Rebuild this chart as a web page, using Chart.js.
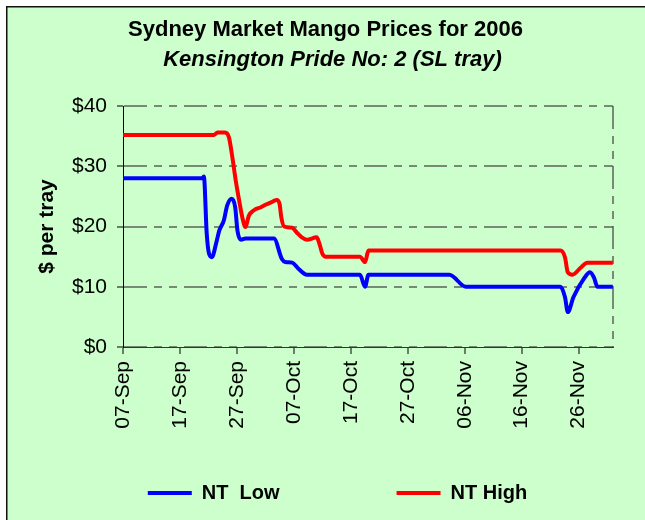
<!DOCTYPE html>
<html><head><meta charset="utf-8">
<style>html,body{margin:0;padding:0;background:#fff;overflow:hidden;} canvas{display:block;}</style>
<script src="https://cdn.jsdelivr.net/npm/chart.js@4.4.1/dist/chart.umd.min.js"></script>
</head><body>
<canvas id="c" width="645" height="520"></canvas>
<script>
const chartTitle = 'Sydney Market Mango Prices for 2006';
const chartSubtitle = 'Kensington Pride No: 2 (SL tray)';
const yAxisTitle = '$ per tray';
const seriesNames = ['NT  Low', 'NT High'];
const seriesColors = ['#0000FF', '#FF0000'];

// x values: days since 07-Sep-2006
const lowDays   = [0, 13.9, 14.2, 14.7, 15.1, 15.6, 16.4, 16.9, 17.7, 18.3, 19.1, 19.7, 20.1, 20.7, 21.5, 26.5, 27.9, 28.5, 29.7, 30.8, 32.3, 41.6, 42.5, 43.1, 57.3, 60.2, 76.8, 77.6, 78.1, 79.1, 80.9, 82.0, 82.7, 83.3, 86];
const lowPrices = [28.0, 28.0, 28.3, 18.8, 15.5, 14.9, 17.4, 19.3, 21.0, 23.5, 24.6, 23.2, 19.3, 17.8, 18.0, 18.0, 14.6, 14.1, 14.0, 13.0, 12.0, 12.0, 10.0, 12.0, 12.0, 10.0, 10.0, 8.3, 5.8, 8.3, 11.3, 12.4, 11.5, 10.0, 10.0];
const highDays   = [0, 16.0, 16.6, 17.9, 18.6, 19.2, 19.8, 20.4, 21.0, 21.5, 22.1, 23.0, 24.2, 25.0, 26.2, 27.0, 27.5, 27.8, 28.3, 29.7, 30.5, 31.4, 32.3, 34.0, 34.5, 35.0, 35.6, 41.6, 42.5, 43.1, 76.8, 77.6, 78.1, 78.9, 80.4, 81.5, 86];
const highPrices = [35.2, 35.2, 35.6, 35.6, 34.8, 31.5, 27.6, 24.3, 21.3, 19.9, 21.8, 22.7, 23.2, 23.6, 24.1, 24.4, 23.7, 21.5, 20.0, 19.8, 19.0, 18.2, 17.8, 18.2, 17.1, 15.5, 15.0, 15.0, 14.1, 16.0, 16.0, 14.9, 12.4, 12.0, 13.2, 14.0, 14.0];

const xTickDays = [0, 10, 20, 30, 40, 50, 60, 70, 80];
const xTickLabels = ['07-Sep', '17-Sep', '27-Sep', '07-Oct', '17-Oct', '27-Oct', '06-Nov', '16-Nov', '26-Nov'];
const xEndDay = 86;
const yTickValues = [0, 10, 20, 30, 40];
const yTickLabels = ['$0', '$10', '$20', '$30', '$40'];

const gridColor = 'rgba(60,60,60,0.6)';
const dashPattern = [23, 7, 8, 7, 8, 7];
const FONT = "'Liberation Sans', Arial, Helvetica, sans-serif";
Chart.defaults.font.family = FONT;
Chart.defaults.color = '#000';

const toPoints = (xs, ys) => xs.map((x, i) => ({x: x, y: ys[i]}));

const bgPlugin = {
  id: 'bgFrame',
  beforeDraw(chart) {
    const {ctx, width, height} = chart;
    ctx.save();
    ctx.fillStyle = '#ffffff';
    ctx.fillRect(0, 0, width, height);
    ctx.fillStyle = '#CCFFCC';
    ctx.fillRect(7, 7, width - 7, height - 7);
    ctx.fillStyle = '#111111';
    ctx.fillRect(6, 6, 1.5, height - 6);
    ctx.fillRect(6, 6, width - 6, 1.5);
    ctx.restore();
  }
};

const shiftPlugin = {
  id: 'shiftBlocks',
  afterLayout(chart) {
    const move = (b, dx) => { b.left += dx; b.right += dx; };
    chart.boxes.forEach(b => {
      if (b === chart.titleBlock) move(b, 18);
      else if (b === chart.legend) move(b, 30);
      else if (b.options && b.options.text === chartSubtitle) move(b, 25);
    });
  }
};

const spacer = () => ({text: '', fillStyle: 'rgba(0,0,0,0)', strokeStyle: 'rgba(0,0,0,0)', lineWidth: 0, hidden: false});

new Chart(document.getElementById('c'), {
  type: 'line',
  data: {
    datasets: [
      {label: seriesNames[0], data: toPoints(lowDays, lowPrices), borderColor: seriesColors[0], backgroundColor: seriesColors[0],
       borderWidth: 4, pointRadius: 0, cubicInterpolationMode: 'monotone', borderJoinStyle: 'round', borderCapStyle: 'round', fill: false},
      {label: seriesNames[1], data: toPoints(highDays, highPrices), borderColor: seriesColors[1], backgroundColor: seriesColors[1],
       borderWidth: 4, pointRadius: 0, cubicInterpolationMode: 'monotone', borderJoinStyle: 'round', borderCapStyle: 'round', fill: false}
    ]
  },
  options: {
    responsive: false,
    animation: false,
    devicePixelRatio: 1,
    layout: {padding: {left: 0, right: 30, top: 0, bottom: 7}},
    plugins: {
      title: {display: true, text: chartTitle, font: {size: 22, weight: 'bold'}, padding: {top: 16.8, bottom: 0}},
      subtitle: {display: true, text: chartSubtitle, color: '#000', font: {size: 22, weight: 'bold', style: 'italic'}, padding: {top: 3.6, bottom: 32.8}},
      legend: {
        display: true, position: 'bottom',
        labels: {
          boxWidth: 44, boxHeight: 4, padding: 3,
          font: {size: 20, weight: 'bold'},
          generateLabels: (chart) => {
            const ds = chart.data.datasets;
            return [
              {text: ds[0].label, fillStyle: ds[0].borderColor, strokeStyle: ds[0].borderColor, lineWidth: 0, hidden: false, datasetIndex: 0},
              spacer(), spacer(),
              {text: ds[1].label, fillStyle: ds[1].borderColor, strokeStyle: ds[1].borderColor, lineWidth: 0, hidden: false, datasetIndex: 1}
            ];
          }
        }
      },
      tooltip: {enabled: false}
    },
    scales: {
      x: {
        type: 'linear', min: 0, max: xEndDay,
        afterBuildTicks: (axis) => { axis.ticks = xTickDays.concat([xEndDay]).map(v => ({value: v})); },
        afterFit: (axis) => { axis.height = 133; },
        ticks: {
          autoSkip: false, maxRotation: 90, minRotation: 90, padding: 7,
          font: {size: 21},
          callback: (v) => { const i = xTickDays.indexOf(v); return i >= 0 ? xTickLabels[i] : ''; }
        },
        grid: {
          display: true, drawOnChartArea: true, drawTicks: true, tickLength: 7, tickWidth: 1,
          lineWidth: 2,
          color: (ctx) => (ctx.tick && ctx.tick.value === xEndDay) ? gridColor : 'rgba(0,0,0,0)',
          tickColor: (ctx) => (ctx.tick && ctx.tick.value === xEndDay) ? 'rgba(0,0,0,0)' : '#000',
          tickBorderDash: []
        },
        border: {display: true, color: '#333333', width: 1, dash: dashPattern}
      },
      y: {
        type: 'linear', min: 0, max: 40,
        afterBuildTicks: (axis) => { axis.ticks = yTickValues.map(v => ({value: v})); },
        afterFit: (axis) => { axis.width = 123; },
        ticks: {
          padding: 10, font: {size: 21},
          callback: (v) => { const i = yTickValues.indexOf(v); return i >= 0 ? yTickLabels[i] : ''; }
        },
        title: {display: true, text: yAxisTitle, font: {size: 21, weight: 'bold'}, padding: {top: 35, bottom: 0}},
        grid: {color: gridColor, lineWidth: 2, drawTicks: true, tickLength: 6, tickColor: '#000', tickWidth: 1, tickBorderDash: []},
        border: {display: true, color: '#000', width: 1, dash: dashPattern}
      }
    }
  },
  plugins: [bgPlugin, shiftPlugin]
});
</script>
</body></html>
